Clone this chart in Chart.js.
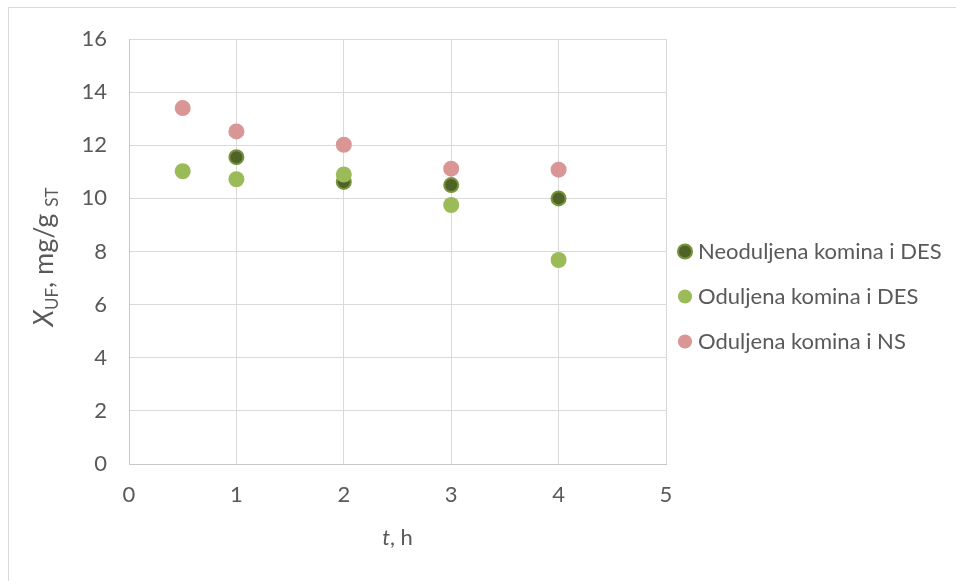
<!DOCTYPE html>
<html>
<head>
<meta charset="utf-8">
<script src="https://cdn.jsdelivr.net/npm/chart.js@4"></script>
<style>
  html, body { margin: 0; padding: 0; background: #fff; overflow: hidden; }
  #wrap { position: relative; width: 956px; height: 581px; }
  #frame { position: absolute; left: 8px; top: 7px; width: 1000px; height: 700px;
           border-left: 1px solid #d9d9d9; border-top: 1px solid #d9d9d9; pointer-events: none; }
</style>
</head>
<body>
<div id="wrap">
  <canvas id="chart" width="956" height="581"></canvas>
  <div id="frame"></div>
</div>
<script>
// values
var neoDesT = [1, 2, 3, 4];
var neoDesX = [11.55, 10.62, 10.5, 10.0];
var odDesT = [0.5, 1, 2, 3, 4];
var odDesX = [11.02, 10.72, 10.9, 9.75, 7.68];
var odNsT = [0.5, 1, 2, 3, 4];
var odNsX = [13.4, 12.52, 12.02, 11.12, 11.08];
var seriesNames = ['Neoduljena komina i DES', 'Oduljena komina i DES', 'Oduljena komina i NS'];

var FONT = 'Lato';
var txt = '#595959';

function pts(t, x) {
    return t.map((v, i) => ({x: v, y: x[i]}));
}

// fixed width for the legend box on the right
var legendWidth = {
    id: 'legendWidth',
    beforeLayout(chart) {
        var lg = chart.legend;
        if (lg && !lg._patched) {
            var fit = lg.fit;
            lg.fit = function() {
                fit.call(this);
                this.width = 290;
            };
            lg._patched = true;
        }
    }
};

// axis titles with italic symbols and subscripts
var axisTitles = {
    id: 'axisTitles',
    afterDraw(chart) {
        var ctx = chart.ctx;
        var area = chart.chartArea;
        ctx.save();
        ctx.fillStyle = txt;
        ctx.textBaseline = 'alphabetic';

        // y title
        var parts = [
            {t: 'X', f: 'italic 27px ' + FONT, dy: 0},
            {t: 'UF', f: '17px ' + FONT, dy: 5},
            {t: ', mg/g ', f: '27px ' + FONT, dy: 0},
            {t: 'ST', f: '17px ' + FONT, dy: 5}
        ];
        var w = 0;
        parts.forEach(p => { ctx.font = p.f; p.w = ctx.measureText(p.t).width; w += p.w; });
        ctx.translate(53, 257);
        ctx.rotate(-Math.PI / 2);
        var x = -w / 2;
        parts.forEach(p => { ctx.font = p.f; ctx.fillText(p.t, x, p.dy); x += p.w; });
        ctx.setTransform(1, 0, 0, 1, 0, 0);

        // x title
        var xp = [
            {t: 't', f: 'italic 22px ' + FONT},
            {t: ', h', f: '22px ' + FONT}
        ];
        w = 0;
        xp.forEach(p => { ctx.font = p.f; p.w = ctx.measureText(p.t).width; w += p.w; });
        x = (area.left + area.right) / 2 - w / 2;
        xp.forEach(p => { ctx.font = p.f; ctx.fillText(p.t, x, 545); x += p.w; });
        ctx.restore();
    }
};

new Chart('chart', {
    type: 'scatter',
    data: {
        datasets: [
            {
                label: seriesNames[0],
                data: pts(neoDesT, neoDesX),
                backgroundColor: '#4F6228',
                borderColor: '#77933C',
                borderWidth: 2,
                pointRadius: 7,
                pointHoverRadius: 7,
                order: 1
            },
            {
                label: seriesNames[1],
                data: pts(odDesT, odDesX),
                backgroundColor: '#9BBB59',
                borderColor: '#9BBB59',
                borderWidth: 0,
                pointRadius: 8,
                pointHoverRadius: 8,
                order: 0
            },
            {
                label: seriesNames[2],
                data: pts(odNsT, odNsX),
                backgroundColor: '#D99694',
                borderColor: '#D99694',
                borderWidth: 0,
                pointRadius: 8,
                pointHoverRadius: 8,
                order: 0
            }
        ]
    },
    options: {
        responsive: false,
        animation: false,
        layout: {padding: {top: 39, bottom: 21, left: 0, right: 0}},
        plugins: {
            tooltip: {enabled: false},
            legend: {
                position: 'right',
                labels: {
                    usePointStyle: true,
                    pointStyle: 'circle',
                    boxWidth: 4,
                    boxHeight: 10,
                    padding: 17,
                    color: txt,
                    font: {family: FONT, size: 22, lineHeight: 28 / 22},
                    sort: (a, b) => a.datasetIndex - b.datasetIndex,
                    generateLabels(chart) {
                        var items = Chart.defaults.plugins.legend.labels.generateLabels(chart);
                        items.forEach(it => { it.text = [it.text]; it.lineWidth = it.datasetIndex === 0 ? 2 : 0; });
                        return items;
                    }
                }
            }
        },
        scales: {
            x: {
                type: 'linear',
                min: 0,
                max: 5,
                ticks: {stepSize: 1, color: txt, font: {family: FONT, size: 22}, padding: 18},
                grid: {color: '#d9d9d9', drawTicks: false},
                border: {color: '#c8c8c8'},
                afterFit(scale) { scale.height = 581 - 21 - 464; }
            },
            y: {
                min: 0,
                max: 16,
                ticks: {stepSize: 2, color: txt, font: {family: FONT, size: 22}, padding: 22},
                grid: {color: '#d9d9d9', drawTicks: false},
                border: {color: '#c8c8c8'},
                afterFit(scale) { scale.width = 129; }
            }
        }
    },
    plugins: [legendWidth, axisTitles]
});
</script>
</body>
</html>
